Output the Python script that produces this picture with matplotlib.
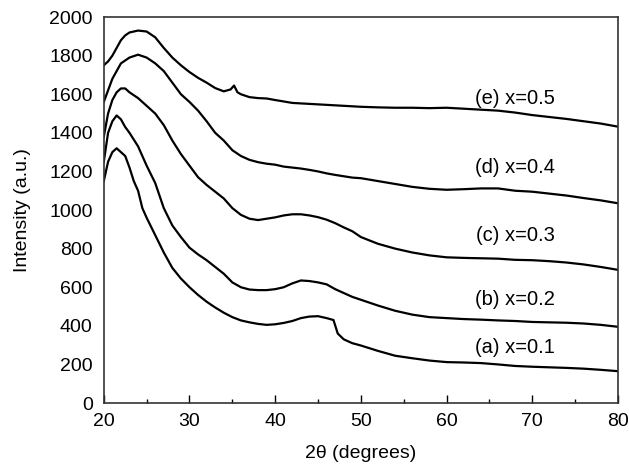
import matplotlib
matplotlib.use("Agg")
import matplotlib.pyplot as plt
from matplotlib.ticker import MultipleLocator

plt.rcParams['font.family'] = ['Liberation Sans', 'DejaVu Sans']

# values (2theta in degrees, intensity in a.u.)
x_a = [20, 20.5, 21, 21.5, 22, 22.5, 23, 23.5, 24, 24.5, 25, 26, 27, 28, 29, 30, 31, 32, 33, 34,
       35, 36, 37, 38, 39, 40, 41, 42, 43, 44, 45, 46, 46.8, 47.3, 48, 49, 50, 52, 54, 56, 58,
       60, 62, 64, 66, 68, 70, 72, 74, 76, 78, 80]
y_a = [1150, 1250, 1300, 1320, 1300, 1280, 1220, 1150, 1100, 1010, 960, 870, 780, 700, 645, 600,
       560, 525, 495, 468, 445, 428, 418, 410, 405, 408, 415, 425, 440, 448, 450, 440, 430, 360,
       330, 310, 298, 270, 245, 232, 220, 212, 210, 207, 200, 192, 188, 185, 182, 178, 172, 165]

x_b = [20, 20.5, 21, 21.5, 22, 22.5, 23, 24, 25, 26, 27, 28, 29, 30, 31, 32, 33, 34, 35, 36, 37,
       38, 39, 40, 41, 42, 43, 44, 45, 46, 47, 48, 49, 50, 52, 54, 56, 58, 60, 62, 64, 66, 68,
       70, 72, 74, 76, 78, 80]
y_b = [1250, 1400, 1460, 1490, 1470, 1430, 1400, 1330, 1230, 1140, 1010, 920, 860, 805, 770, 740,
       705, 670, 625, 600, 588, 585, 585, 590, 600, 620, 635, 632, 625, 615, 590, 570, 550, 535,
       505, 478, 458, 445, 440, 435, 432, 428, 425, 420, 418, 416, 412, 405, 395]

x_c = [20, 20.5, 21, 21.5, 22, 22.5, 23, 24, 25, 26, 27, 28, 29, 30, 31, 32, 33, 34, 35, 36, 37,
       38, 39, 40, 41, 42, 43, 44, 45, 46, 47, 48, 49, 50, 52, 54, 56, 58, 60, 62, 64, 66, 68,
       70, 72, 74, 76, 78, 80]
y_c = [1380, 1500, 1570, 1610, 1630, 1630, 1610, 1580, 1540, 1500, 1440, 1360, 1290, 1230, 1170,
       1130, 1095, 1060, 1010, 975, 955, 948, 955, 962, 972, 978, 978, 972, 963, 950, 932, 910,
       890, 860, 825, 800, 780, 765, 755, 752, 750, 748, 742, 740, 735, 728, 718, 705, 690]

x_d = [20, 20.5, 21, 21.5, 22, 23, 24, 25, 26, 27, 28, 29, 30, 31, 32, 33, 34, 35, 36, 37, 38,
       39, 40, 41, 42, 43, 44, 45, 46, 47, 48, 49, 50, 52, 54, 56, 58, 60, 62, 64, 66, 68, 70,
       72, 74, 76, 78, 80]
y_d = [1560, 1620, 1680, 1720, 1760, 1790, 1805, 1790, 1760, 1720, 1660, 1600, 1560, 1515, 1460,
       1400, 1360, 1310, 1280, 1260, 1248, 1240, 1235, 1225, 1220, 1215, 1208, 1200, 1190, 1182,
       1175, 1168, 1165, 1150, 1135, 1120, 1110, 1105, 1108, 1112, 1112, 1100, 1095, 1085, 1075,
       1062, 1050, 1035]

x_e = [20, 20.5, 21, 21.5, 22, 22.5, 23, 24, 25, 26, 27, 28, 29, 30, 31, 32, 33, 34, 34.8, 35.2,
       35.6, 36, 37, 38, 39, 40, 42, 44, 46, 48, 50, 52, 54, 56, 58, 60, 62, 64, 66, 68, 70, 72,
       74, 76, 78, 80]
y_e = [1750, 1770, 1800, 1840, 1880, 1905, 1920, 1930, 1925, 1895, 1840, 1790, 1750, 1715, 1685,
       1660, 1632, 1615, 1625, 1645, 1610, 1600, 1585, 1580, 1578, 1570, 1555, 1550, 1545, 1540,
       1535, 1532, 1530, 1530, 1528, 1530, 1525, 1520, 1515, 1505, 1492, 1482, 1472, 1460, 1448,
       1432]

labels = ['(a) x=0.1', '(b) x=0.2', '(c) x=0.3', '(d) x=0.4', '(e) x=0.5']
label_y = [290, 535, 870, 1220, 1580]

fig = plt.figure(figsize=(6.29, 4.67), dpi=100)
ax = fig.add_axes([0.165, 0.137, 0.8175, 0.8265])

for xs, ys in [(x_a, y_a), (x_b, y_b), (x_c, y_c), (x_d, y_d), (x_e, y_e)]:
    ax.plot(xs, ys, color='black', lw=1.6)

for txt, ly in zip(labels, label_y):
    ax.text(68, ly, txt, fontsize=14.5, ha='center', va='center')

ax.set_xlim(20, 80)
ax.set_ylim(0, 2000)
ax.xaxis.set_major_locator(MultipleLocator(10))
ax.xaxis.set_minor_locator(MultipleLocator(5))
ax.yaxis.set_major_locator(MultipleLocator(200))
ax.tick_params(axis='x', which='major', direction='in', length=6, width=1, labelsize=14, pad=7)
ax.tick_params(axis='x', which='minor', direction='in', length=3, width=1)
ax.tick_params(axis='y', which='both', length=0, labelsize=14, pad=8)
for sp in ax.spines.values():
    sp.set_linewidth(1.2)
    sp.set_color('#333333')

ax.set_xlabel('2θ (degrees)', fontsize=14, labelpad=11)
ax.set_ylabel('Intensity (a.u.)', fontsize=14, labelpad=13)

fig.savefig('out.png', dpi=100)
